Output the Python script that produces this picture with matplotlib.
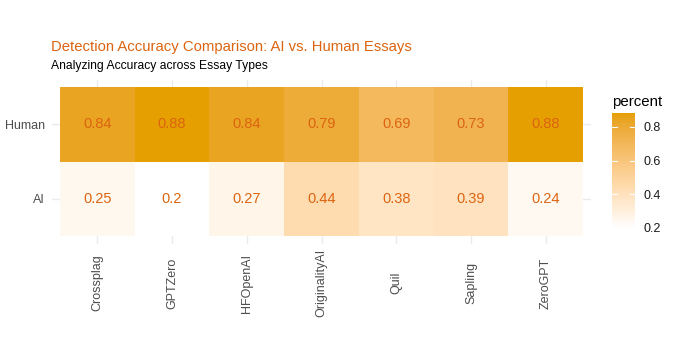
import numpy as np
import matplotlib
matplotlib.use("Agg")
import matplotlib.pyplot as plt
from matplotlib.colors import ListedColormap, Normalize, to_rgb

plt.rcParams['font.family'] = ['Liberation Sans', 'DejaVu Sans']

detectors = ["Crossplag", "GPTZero", "HFOpenAI", "OriginalityAI", "Quil", "Sapling", "ZeroGPT"]
essay_types = ["AI", "Human"]
human_acc = [0.84, 0.88, 0.84, 0.79, 0.69, 0.73, 0.88]
ai_acc = [0.25, 0.20, 0.27, 0.44, 0.38, 0.39, 0.24]

W, H = 676, 354
TXT = "#DC6410"


# gradient white -> orange interpolated in Lab space (like ggplot's scale_fill_gradient)
def srgb_to_lab(c):
    c = np.asarray(c, float)
    lin = np.where(c <= 0.04045, c / 12.92, ((c + 0.055) / 1.055) ** 2.4)
    M = np.array([[0.4124, 0.3576, 0.1805],
                  [0.2126, 0.7152, 0.0722],
                  [0.0193, 0.1192, 0.9505]])
    xyz = M @ lin / np.array([0.95047, 1.0, 1.08883])
    f = np.where(xyz > 0.008856, np.cbrt(xyz), 7.787 * xyz + 16 / 116)
    return np.array([116 * f[1] - 16, 500 * (f[0] - f[1]), 200 * (f[1] - f[2])])


def lab_to_srgb(lab):
    L, a, b = lab
    fy = (L + 16) / 116
    fx = fy + a / 500
    fz = fy - b / 200
    f = np.array([fx, fy, fz])
    xyz = np.where(f ** 3 > 0.008856, f ** 3, (f - 16 / 116) / 7.787)
    xyz = xyz * np.array([0.95047, 1.0, 1.08883])
    Minv = np.array([[3.2406, -1.5372, -0.4986],
                     [-0.9689, 1.8758, 0.0415],
                     [0.0557, -0.2040, 1.0570]])
    lin = Minv @ xyz
    c = np.where(lin <= 0.0031308, 12.92 * lin, 1.055 * np.clip(lin, 0, None) ** (1 / 2.4) - 0.055)
    return np.clip(c, 0, 1)


lo = srgb_to_lab(to_rgb("#FFFFFF"))
hi = srgb_to_lab(to_rgb("#E69F00"))
cmap = ListedColormap([lab_to_srgb(lo + (hi - lo) * t) for t in np.linspace(0, 1, 256)])

vals = np.array([ai_acc, human_acc])
norm = Normalize(vmin=vals.min(), vmax=vals.max())

fig = plt.figure(figsize=(W / 100, H / 100), dpi=100)
fig.patch.set_facecolor("white")

# panel (tiles plus ggplot-like 0.6 expansion)
ax = fig.add_axes([52.5 / W, 1 - 243.5 / H, 538 / W, 164 / H])
ax.set_xlim(0.4, 7.6)
ax.set_ylim(0.4, 2.6)
ax.set_axisbelow(True)
ax.grid(True, color="#EBEBEB", lw=1.0)
for s in ax.spines.values():
    s.set_visible(False)

for r, row in enumerate(vals):
    for c, v in enumerate(row):
        ax.add_patch(plt.Rectangle((c + 0.5, r + 0.5), 1, 1,
                                   facecolor=cmap(norm(v)), edgecolor="none", zorder=2))
        ax.text(c + 1, r + 1, f"{v:g}", ha="center", va="center",
                fontsize=10.5, color=TXT, zorder=3)

ax.set_xticks(np.arange(1, 8))
ax.set_xticklabels(detectors, rotation=90, va="center", ha="center")
ax.set_yticks([1, 2])
ax.set_yticklabels(essay_types)
ax.tick_params(axis="x", length=0, pad=28.5, labelsize=9, labelcolor="#4D4D4D")
ax.tick_params(axis="y", length=0, pad=5.4, labelsize=9, labelcolor="#4D4D4D")

fig.text(51 / W, 1 - 51 / H, "Detection Accuracy Comparison: AI vs. Human Essays",
         fontsize=10.7, color=TXT, ha="left", va="baseline")
fig.text(51 / W, 1 - 69 / H, "Analyzing Accuracy across Essay Types",
         fontsize=8.7, color="black", ha="left", va="baseline")

# colourbar
cax = fig.add_axes([612 / W, 1 - 228 / H, 23 / W, 114.6 / H])
grad = np.linspace(norm.vmin, norm.vmax, 256).reshape(-1, 1)
cax.imshow(grad, aspect="auto", cmap=cmap, norm=norm, origin="lower",
           extent=[0, 1, norm.vmin, norm.vmax])
cax.set_xlim(0, 1)
cax.set_ylim(norm.vmin, norm.vmax)
cbar_ticks = [0.2, 0.4, 0.6, 0.8]
for t in cbar_ticks[1:]:
    cax.plot([0, 0.2], [t, t], color="white", lw=0.8)
    cax.plot([0.8, 1], [t, t], color="white", lw=0.8)
cax.set_xticks([])
cax.yaxis.tick_right()
cax.set_yticks(cbar_ticks)
cax.set_yticklabels([f"{t:g}" for t in cbar_ticks])
cax.tick_params(axis="y", length=0, pad=6, labelsize=9, labelcolor="#1A1A1A")
for s in cax.spines.values():
    s.set_visible(False)
fig.text(612 / W, 1 - 106 / H, "percent", fontsize=10.8, color="black",
         ha="left", va="baseline")

fig.savefig("out.png", dpi=100)
